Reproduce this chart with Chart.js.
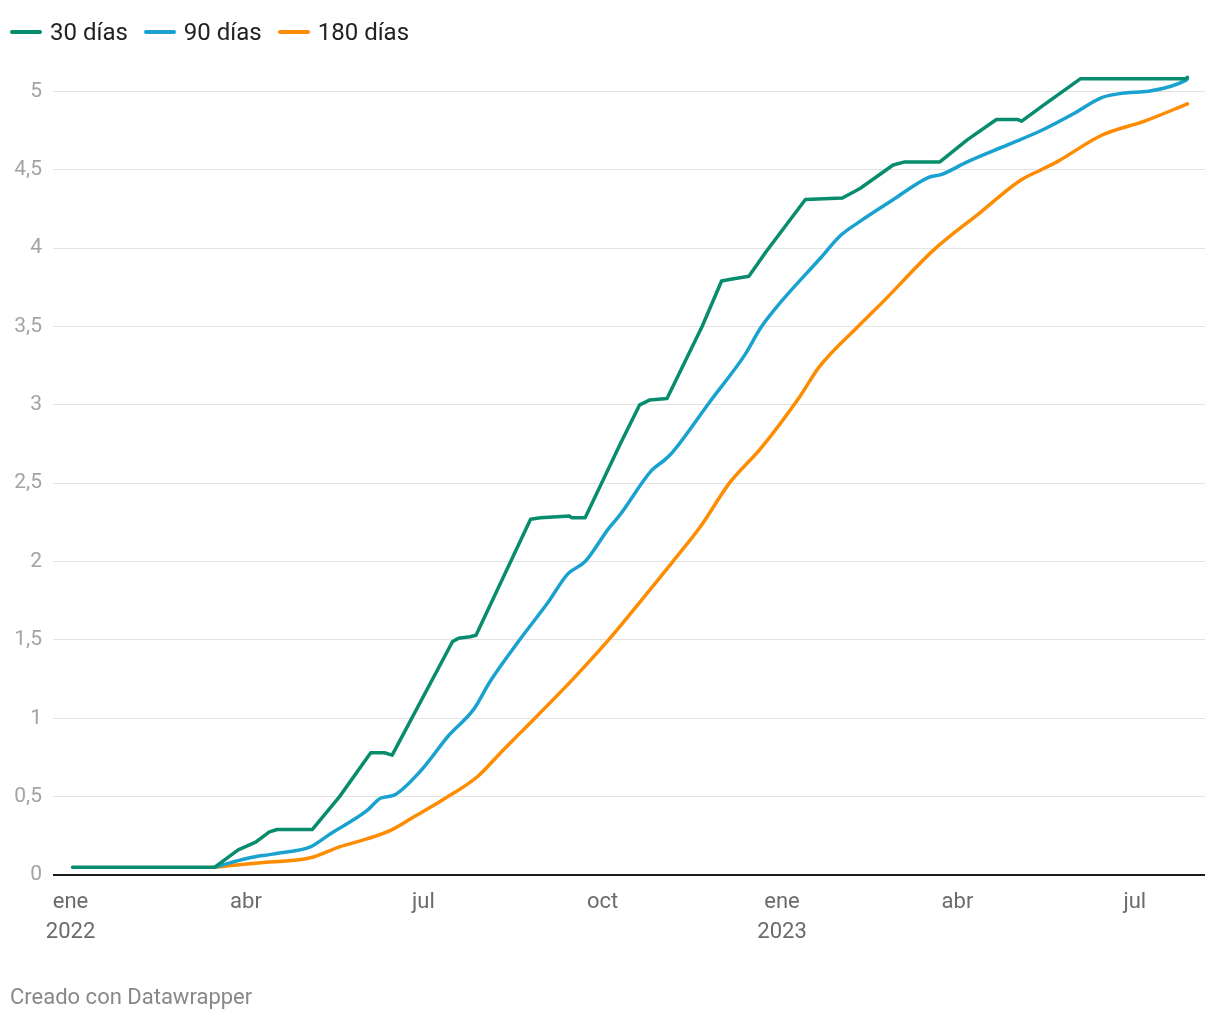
<!DOCTYPE html>
<html lang="es">
<head>
<meta charset="utf-8">
<script src="https://cdn.jsdelivr.net/npm/chart.js@4.4.1/dist/chart.umd.min.js"></script>
<style>
body{margin:0;background:#fff;font-family:Roboto,"Noto Sans",sans-serif;}
#wrap{position:relative;width:1220px;height:1020px;}
#grafico{position:absolute;left:0;top:0;}
#leyenda{position:absolute;left:10px;top:18px;display:flex;align-items:center;font-size:24px;color:#222;}
#leyenda .item{display:flex;align-items:center;margin-right:16px;}
#leyenda .linea{width:32px;height:4px;border-radius:2px;margin-right:8px;}
#pie{position:absolute;left:10px;top:984px;font-size:22px;color:#888;}
</style>
</head>
<body>
<div id="wrap">
<canvas id="grafico" width="1220" height="1020"></canvas>
<div id="leyenda"></div>
<div id="pie">Creado con Datawrapper</div>
</div>
<script>
// series
const nombres = ["30 días", "90 días", "180 días"];
const colores = ["#088c6e", "#19a2cf", "#fd8c00"];

const fechas30 = ["2022-01-02","2022-03-16","2022-03-28","2022-04-06","2022-04-13","2022-04-17","2022-05-05","2022-05-19","2022-06-04","2022-06-11","2022-06-15","2022-07-16","2022-07-19","2022-07-25","2022-07-28","2022-08-25","2022-08-30","2022-09-14","2022-09-15","2022-09-22","2022-10-10","2022-10-20","2022-10-25","2022-11-03","2022-11-21","2022-12-01","2022-12-05","2022-12-15","2022-12-24","2023-01-13","2023-02-01","2023-02-10","2023-02-27","2023-03-05","2023-03-23","2023-04-06","2023-04-21","2023-05-02","2023-05-04","2023-05-15","2023-06-03","2023-07-27","2023-07-28"];
const valores30 = [0.05,0.05,0.16,0.21,0.275,0.29,0.29,0.5,0.78,0.78,0.765,1.49,1.51,1.52,1.53,2.27,2.28,2.29,2.28,2.28,2.75,3.0,3.03,3.04,3.5,3.79,3.8,3.82,3.98,4.31,4.32,4.38,4.53,4.55,4.55,4.69,4.82,4.82,4.81,4.91,5.08,5.08,5.09];

const fechas90 = ["2022-03-16","2022-04-03","2022-04-13","2022-04-18","2022-05-04","2022-05-14","2022-06-02","2022-06-09","2022-06-16","2022-06-30","2022-07-14","2022-07-27","2022-08-04","2022-08-20","2022-09-03","2022-09-13","2022-09-22","2022-10-04","2022-10-10","2022-10-26","2022-11-02","2022-11-06","2022-11-25","2022-12-13","2022-12-21","2022-12-31","2023-01-21","2023-01-31","2023-02-10","2023-02-26","2023-03-17","2023-03-24","2023-04-06","2023-04-27","2023-05-14","2023-05-31","2023-06-14","2023-06-26","2023-07-08","2023-07-27","2023-07-28"];
const valores90 = [0.05,0.11,0.13,0.14,0.18,0.26,0.41,0.49,0.51,0.67,0.89,1.06,1.23,1.51,1.74,1.92,2.0,2.21,2.3,2.58,2.65,2.7,3.02,3.32,3.49,3.65,3.94,4.08,4.17,4.3,4.45,4.47,4.55,4.66,4.75,4.86,4.96,4.99,5.0,5.07,5.08];

const fechas180 = ["2022-03-16","2022-04-10","2022-05-04","2022-05-19","2022-06-02","2022-06-15","2022-06-26","2022-07-11","2022-07-29","2022-08-10","2022-08-20","2022-09-15","2022-10-04","2022-10-20","2022-11-06","2022-11-20","2022-12-05","2022-12-21","2023-01-10","2023-01-20","2023-02-09","2023-02-22","2023-03-20","2023-04-13","2023-05-03","2023-05-14","2023-05-22","2023-06-14","2023-07-06","2023-07-28"];
const valores180 = [0.05,0.08,0.11,0.18,0.23,0.29,0.37,0.48,0.63,0.785,0.91,1.24,1.5,1.74,2.0,2.22,2.5,2.72,3.05,3.24,3.5,3.66,3.99,4.23,4.43,4.5,4.55,4.72,4.81,4.92];

// ejes
const inicioEje = "2021-12-23";
const finEje = "2023-08-06";
const fechasTicks = ["2022-01-01","2022-04-01","2022-07-01","2022-10-01","2023-01-01","2023-04-01","2023-07-01"];
const etiquetasTicks = [["ene","2022"],"abr","jul","oct",["ene","2023"],"abr","jul"];
const valoresY = [0,0.5,1,1.5,2,2.5,3,3.5,4,4.5,5];

function dia(f){
  const p = f.split("-").map(Number);
  return (Date.UTC(p[0], p[1]-1, p[2]) - Date.UTC(2022,0,1)) / 86400000;
}
function serie(fechas, valores){
  return fechas.map((f,i) => ({x: dia(f), y: valores[i]}));
}

const series = [serie(fechas30, valores30), serie(fechas90, valores90), serie(fechas180, valores180)];
const diasTicks = fechasTicks.map(dia);

// leyenda
const leyenda = document.getElementById("leyenda");
nombres.forEach((n,i) => {
  const it = document.createElement("div");
  it.className = "item";
  it.innerHTML = '<span class="linea" style="background:' + colores[i] + '"></span>' + n;
  leyenda.appendChild(it);
});

new Chart(document.getElementById("grafico"), {
  type: "line",
  data: {
    datasets: series.map((d,i) => ({
      label: nombres[i],
      data: d,
      borderColor: colores[i],
      backgroundColor: colores[i],
      borderWidth: 3.5,
      pointRadius: 0,
      tension: 0,
      cubicInterpolationMode: i === 0 ? "default" : "monotone",
      borderJoinStyle: "round",
      borderCapStyle: "round"
    }))
  },
  options: {
    responsive: false,
    animation: false,
    layout: {padding: {top: 60, right: 15, bottom: 65, left: 0}},
    plugins: {legend: {display: false}, tooltip: {enabled: false}},
    scales: {
      x: {
        type: "linear",
        min: dia(inicioEje),
        max: dia(finEje),
        grid: {display: false, drawTicks: false},
        border: {display: false},
        afterBuildTicks: s => { s.ticks = diasTicks.map(v => ({value: v})); },
        afterFit: s => { s.height = 80; },
        ticks: {
          autoSkip: false,
          maxRotation: 0,
          padding: 13,
          color: "#6b6b6b",
          font: {family: "Roboto", size: 22, lineHeight: 1.36},
          callback: v => etiquetasTicks[diasTicks.indexOf(v)]
        }
      },
      y: {
        min: 0,
        max: 5.2,
        grid: {
          drawTicks: false,
          color: c => c.tick && c.tick.value === 0 ? "#1a1a1a" : "#e3e3e3",
          lineWidth: c => c.tick && c.tick.value === 0 ? 2 : 1
        },
        border: {display: false},
        afterBuildTicks: s => { s.ticks = valoresY.map(v => ({value: v})); },
        afterFit: s => { s.width = 53; },
        ticks: {
          padding: 11,
          color: "#a3a3a3",
          font: {family: "Roboto", size: 21},
          callback: v => String(v).replace(".", ",")
        }
      }
    }
  }
});
</script>
</body>
</html>
